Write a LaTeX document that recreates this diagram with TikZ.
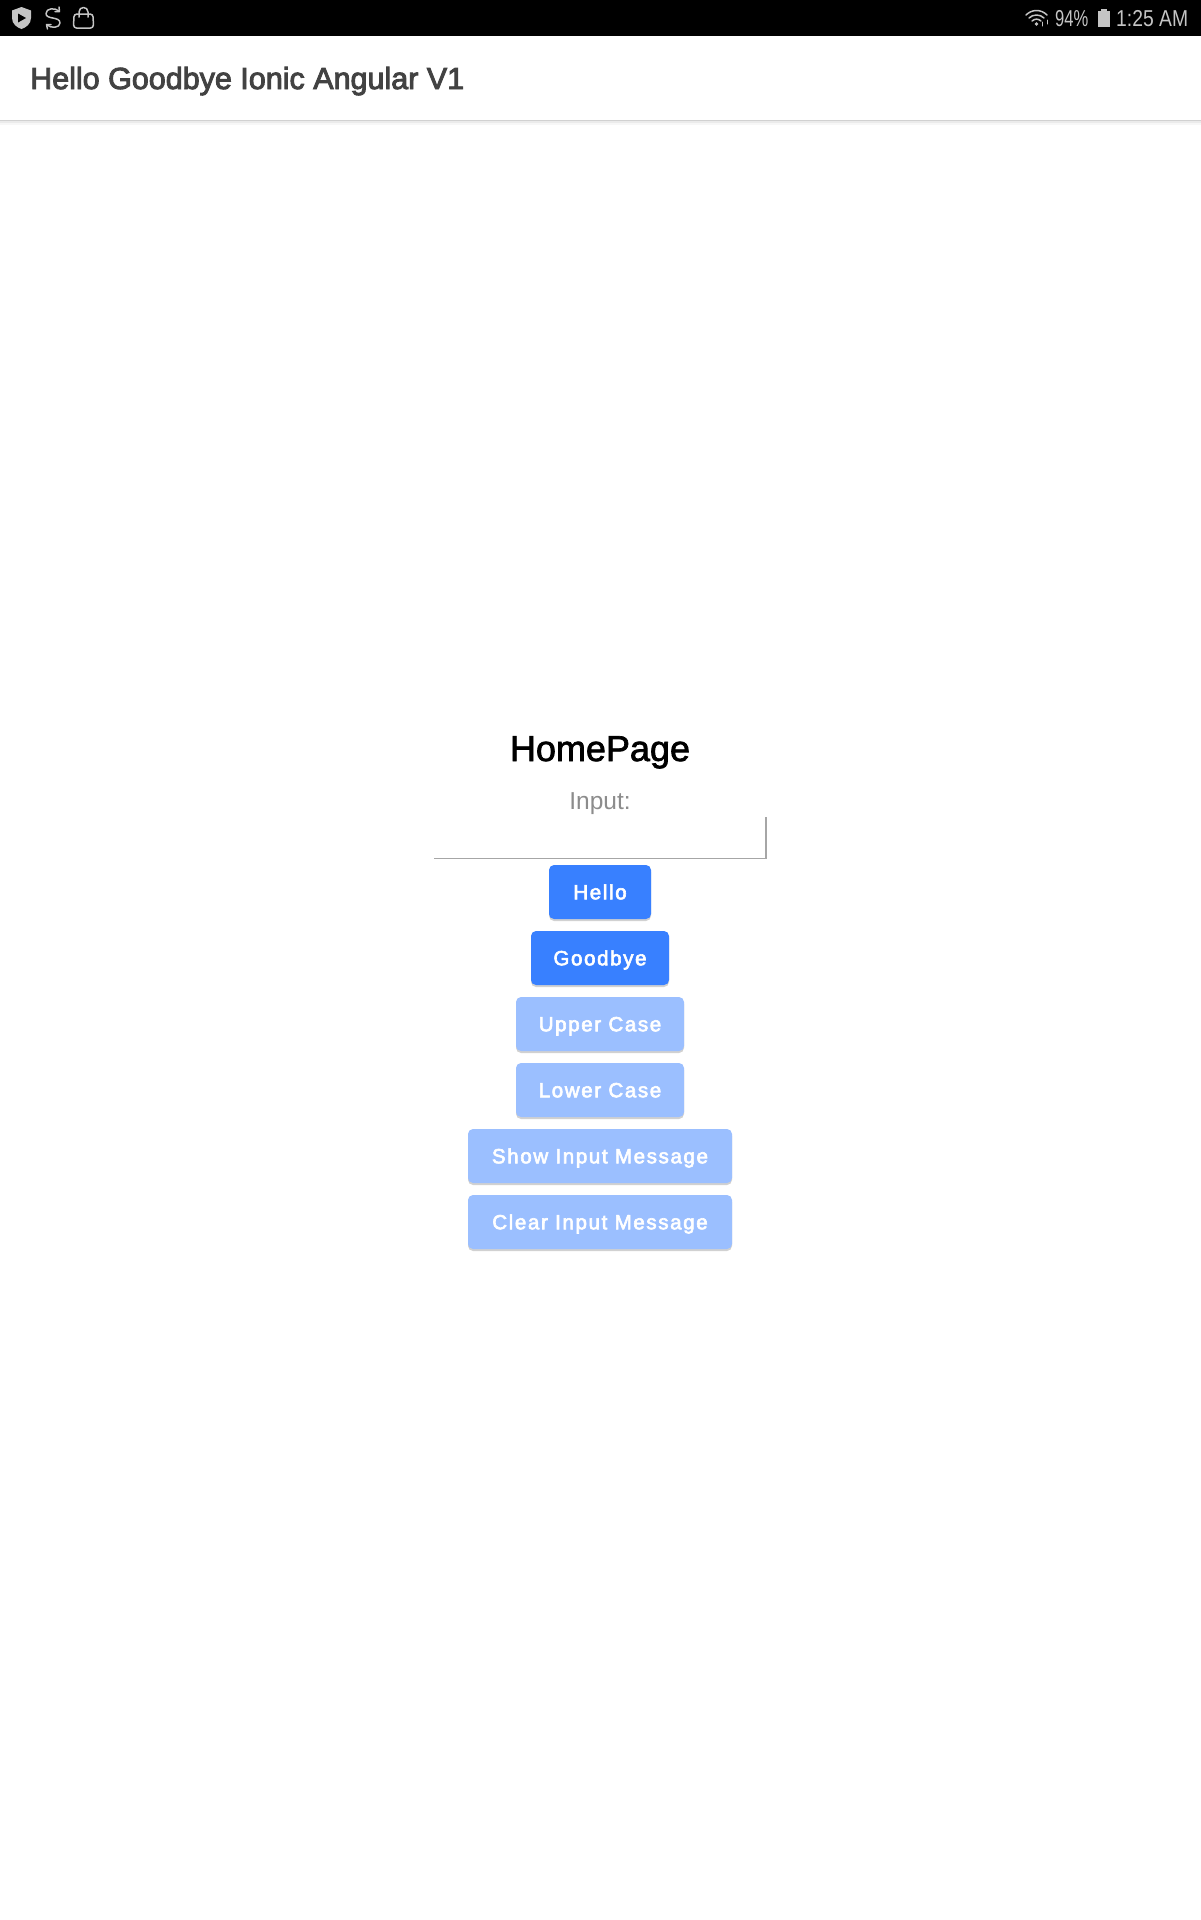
\documentclass[tikz,border=0pt]{standalone}
\usepackage{fontspec}
\setmainfont{Liberation Sans}
\newfontfamily\btnfont[LetterSpace=8,FakeBold=3]{Liberation Sans}
\newfontfamily\titlefont[FakeBold=3]{Liberation Sans}
\newfontfamily\headfont[FakeBold=2]{Liberation Sans}
\usetikzlibrary{shadows}
\definecolor{btnblue}{HTML}{3880FF}
\definecolor{btnpale}{HTML}{9BBFFF}
\definecolor{titlegrey}{HTML}{424242}
\definecolor{icongrey}{HTML}{C4C4C4}
\tikzset{
  btn/.style={fill=#1, text=white, rounded corners=5pt, minimum height=54pt, inner sep=0pt,
    text height=14.5pt, text depth=0pt,
    font=\btnfont\fontsize{20.5}{24}\selectfont,
    drop shadow={shadow xshift=0pt, shadow yshift=-2pt, opacity=0.18, fill=black}},
  stat/.style={text=icongrey, inner sep=0pt, anchor=base west, transform shape,
    font=\fontsize{23}{28}\selectfont},
  icon/.style={draw=icongrey, line width=1.5pt, line cap=round, line join=round}
}
\begin{document}
\begin{tikzpicture}[x=1pt,y=-1pt]
\useasboundingbox (0,0) rectangle (1200,1920);
\fill [white] (0,0) rectangle (1200,1920);
% status bar
\fill [black] (0,0) rectangle (1205,36);
\fill [color = icongrey] (21.5,7) -- (31,10.5) -- (31,18) .. controls (31,24) and (26,27.5) .. (21.5,29)
   .. controls (17,27.5) and (12,24) .. (12,18) -- (12,10.5) -- cycle;
\fill [black] (18,13.5) -- (26,18) -- (18,22.5) -- cycle;
\draw [icon] (59,11) .. controls (55,7.5) and (46,8) .. (46,13.5) .. controls (46,20) and (60,16) .. (60,23)
   .. controls (60,28) and (51,28.5) .. (47,25);
\draw [icon] (59,7) -- (59.5,11.5) -- (55,11.5);
\draw [icon] (47.5,29) -- (46.5,24.5) -- (51,24.5);
\draw [icon, rounded corners=3pt] (74,14) -- (93,14) -- (93.5,28) -- (73.5,28) -- cycle;
\draw [icon] (79,17) -- (79,12) .. controls (79,6) and (88,6) .. (88,12) -- (88,17);
\draw [icon] (1026,15) .. controls (1032,9) and (1041,9) .. (1047,15);
\draw [icon] (1029,18) .. controls (1033,14) and (1040,14) .. (1044,18);
\draw [icon] (1032,21) .. controls (1035,18.5) and (1038,18.5) .. (1041,21);
\fill [color = icongrey] (1036.5,24) circle (1.8);
\draw [icon, line width=1pt] (1042,22) -- (1042,26);
\draw [icon, line width=1pt] (1047,20) -- (1047,24);
\node [stat, xscale=0.72] (batteryText) at (1055,26.5) {94\%};
\fill [color = icongrey] (1100.5,9) rectangle (1106.5,11);
\fill [color = icongrey] (1097.5,11) rectangle (1109.5,27);
\node [stat, xscale=0.84] (clockText) at (1116,26.5) {1:25 AM};
% header
\fill [color = black!3] (0,120) rectangle (1205,125);
\fill [color = black!8] (0,120) rectangle (1205,122.5);
\fill [color = black!18] (0,120) rectangle (1205,121);
\node [anchor=base west, inner sep=0pt, text=titlegrey, font=\titlefont\fontsize{30.5}{34}\selectfont] (appTitle) at (30,89) {Hello Goodbye Ionic Angular V1};
% page
\node [inner sep=0pt, anchor=base, font=\headfont\fontsize{36}{44}\selectfont] (pageTitle) at (600,761) {HomePage};
\node [inner sep=0pt, anchor=base, text=black!45, font=\fontsize{24.5}{28}\selectfont] (inputLabel) at (600,809) {Input:};
\node [minimum width=332pt, minimum height=41pt, inner sep=0pt] (inputBox) at (600,838) {};
\draw [color = black!35, line width=1.5pt] (inputBox.north east) -- (inputBox.south east) -- (inputBox.south west);
% buttons
\node [btn=btnblue, minimum width=102pt] (helloBtn) at (600,892) {Hello};
\node [btn=btnblue, minimum width=138pt] (goodbyeBtn) at (600,958) {Goodbye};
\node [btn=btnpale, minimum width=168pt] (upperBtn) at (600,1024) {Upper Case};
\node [btn=btnpale, minimum width=168pt] (lowerBtn) at (600,1090) {Lower Case};
\node [btn=btnpale, minimum width=264pt] (showBtn) at (600,1156) {Show Input Message};
\node [btn=btnpale, minimum width=264pt] (clearBtn) at (600,1222) {Clear Input Message};
\end{tikzpicture}
\end{document}
